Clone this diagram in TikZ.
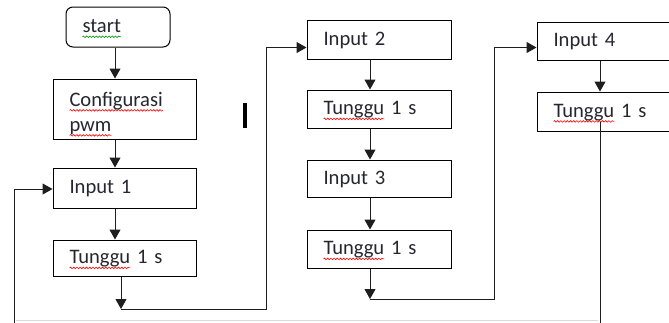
\documentclass[tikz,border=0pt]{standalone}
\usepackage{fontspec}
\setmainfont{Carlito}
\usetikzlibrary{arrows.meta,decorations.pathmorphing}
\definecolor{ink}{HTML}{262630}
\definecolor{wire}{HTML}{1E1E1E}
% word with a spell-check style wavy underline
\newlength\wvlen
\newcommand\wavy[2]{\leavevmode\settowidth\wvlen{#2}\rlap{\tikz[overlay,baseline=0pt]{\draw[#1,sharp corners,line width=0.6pt,
    decorate,decoration={snake,amplitude=0.8pt,segment length=3.2pt}] (0pt,-4pt) -- (\wvlen,-4pt);}}#2}
\begin{document}
\begin{tikzpicture}[x=1pt,y=-1pt,
  box/.style={draw=black,line width=1pt,inner xsep=16.5pt,inner ysep=0pt,text width=110pt,
    align=left,text=ink,font=\fontsize{20.6}{25}\selectfont},
  wide/.style={text width=111pt},
  low/.style={text depth=1.5pt},
  arr/.style={draw=wire,line width=1pt,-{Triangle[length=10pt,width=11pt]}}]
\useasboundingbox (0,0) rectangle (669,322);
\clip (0,0) rectangle (669,322);

% first column
\node[box,low,rounded corners=7pt,text width=71pt,minimum height=40pt] (start) at (118,27) {\wavy{green!60!black}{start}};
\node[box,minimum height=60pt] (cfg) at (124.5,109) {\rule{0pt}{23pt}\wavy{red}{Configurasi}\\\wavy{red}{pwm}};
\node[box,low,minimum height=40pt] (in1) at (124.5,188) {Input 1};
\node[box,low,minimum height=36pt] (tg1) at (124.5,258) {\wavy{red}{Tunggu} 1 s};

% second column
\node[box,low,wide,minimum height=39pt] (in2) at (379,39.5) {Input 2};
\node[box,low,wide,minimum height=38pt] (tg2) at (379,109) {\wavy{red}{Tunggu} 1 s};
\node[box,low,wide,minimum height=37pt] (in3) at (379,178.5) {Input 3};
\node[box,low,wide,minimum height=38pt] (tg3) at (379,249) {\wavy{red}{Tunggu} 1 s};

% third column
\node[box,low,minimum height=38pt] (in4) at (608.5,41) {Input 4};
\node[box,low,minimum height=39pt] (tg4) at (608.5,111.5) {\wavy{red}{Tunggu} 1 s};

% helper coordinates
\coordinate (c1) at (115,0);
\coordinate (c2) at (370,0);
\coordinate (c3) at (600,0);
\coordinate (j1) at (121,309);
\coordinate (e1) at (266,47.5);
\coordinate (j2) at (370,299);
\coordinate (e2) at (494,47.5);
\coordinate (lp) at (600,122);
\coordinate (lb) at (14,335);
\coordinate (fa) at (16,320.5);
\coordinate (fb) at (598,320.5);

% straight flow
\draw[arr] (start.south -| c1) -- (cfg.north -| c1);
\draw[arr] (cfg.south -| c1) -- (in1.north -| c1);
\draw[arr] (in1.south -| c1) -- (tg1.north -| c1);
\draw[arr] (in2.south -| c2) -- (tg2.north -| c2);
\draw[arr] (tg2.south -| c2) -- (in3.north -| c2);
\draw[arr] (in3.south -| c2) -- (tg3.north -| c2);
\draw[arr] (in4.south -| c3) -- (tg4.north -| c3);

% column changes
\draw[arr] (tg1.south -| j1) -- (j1);
\draw[arr] (j1) -| (e1) -- (e1 -| in2.west);
\draw[arr] (tg3.south -| j2) -- (j2);
\draw[arr] (j2) -| (e2) -- (e2 -| in4.west);

% loop back to Input 1
\draw[arr] (lp) |- (lb) |- ([yshift=-1pt]in1.west);
\draw[gray!30,line width=0.8pt] (fa) -- (fb);

% stray bar
\draw[black,line width=3.2pt] (245,103) -- (245,128);
\end{tikzpicture}
\end{document}
